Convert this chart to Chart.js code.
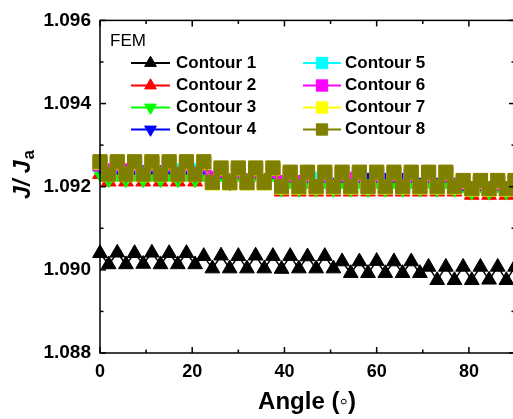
<!DOCTYPE html>
<html>
<head>
<meta charset="utf-8">
<script src="https://cdn.jsdelivr.net/npm/chart.js@4.4.0/dist/chart.umd.min.js"></script>
<style>
  html, body { margin: 0; padding: 0; overflow: hidden; background: #fff; }
  #chart { display: block; }
</style>
</head>
<body>
<canvas id="chart" width="516" height="419"></canvas>
<script>
// angle in degrees, one point every 1.875
const angles = [
  0, 1.875, 3.75, 5.625, 7.5, 9.375, 11.25, 13.125, 15, 16.875, 18.75, 20.625,
  22.5, 24.375, 26.25, 28.125, 30, 31.875, 33.75, 35.625, 37.5, 39.375, 41.25, 43.125,
  45, 46.875, 48.75, 50.625, 52.5, 54.375, 56.25, 58.125, 60, 61.875, 63.75, 65.625,
  67.5, 69.375, 71.25, 73.125, 75, 76.875, 78.75, 80.625, 82.5, 84.375, 86.25, 88.125, 90
];

const contour1 = [
  1.0904, 1.09013, 1.09041, 1.09013, 1.0904, 1.09014, 1.09041, 1.09013, 1.0904, 1.09013, 1.0904, 1.09013,
  1.09033, 1.09003, 1.09034, 1.09003, 1.09033, 1.09003, 1.09034, 1.09003, 1.09033, 1.09002, 1.09033, 1.09003,
  1.09032, 1.09003, 1.09033, 1.09003, 1.0902, 1.08992, 1.0902, 1.08992, 1.09021, 1.08992, 1.0902, 1.08992,
  1.0902, 1.08992, 1.09007, 1.08975, 1.09007, 1.08975, 1.09007, 1.08975, 1.09007, 1.08976, 1.09007, 1.08975, 1.09007
];
const contour2 = [
  1.0923, 1.09212, 1.0923, 1.09212, 1.0923, 1.09212, 1.0923, 1.09212, 1.0923, 1.09212, 1.0923, 1.09212,
  1.0923, 1.09212, 1.0923, 1.09212, 1.0923, 1.09212, 1.0923, 1.09212, 1.0923, 1.09188, 1.0921, 1.09188,
  1.0921, 1.09188, 1.0921, 1.09188, 1.0921, 1.09188, 1.0921, 1.09188, 1.0921, 1.09188, 1.0921, 1.09188,
  1.0921, 1.09188, 1.0921, 1.09188, 1.0921, 1.09188, 1.092, 1.0918, 1.092, 1.0918, 1.092, 1.0918, 1.092
];
const contour3 = [
  1.09232, 1.09218, 1.09232, 1.09218, 1.09232, 1.09218, 1.09232, 1.09218, 1.09232, 1.09218, 1.09232, 1.09218,
  1.09232, 1.09218, 1.09232, 1.09218, 1.09232, 1.09218, 1.09232, 1.09218, 1.09232, 1.09195, 1.09215, 1.09195,
  1.09215, 1.09195, 1.09215, 1.09195, 1.09215, 1.09195, 1.09215, 1.09195, 1.09215, 1.09195, 1.09215, 1.09195,
  1.09215, 1.09195, 1.09215, 1.09195, 1.09215, 1.09195, 1.09205, 1.09188, 1.09205, 1.09188, 1.09205, 1.09188, 1.09205
];
const contour4 = [
  1.0925, 1.0923, 1.0925, 1.0923, 1.0925, 1.0924, 1.0925, 1.0924, 1.0925, 1.0923, 1.0925, 1.0923,
  1.0925, 1.0922, 1.0924, 1.0921, 1.0924, 1.09212, 1.0924, 1.09212, 1.0924, 1.0921, 1.0923, 1.0921,
  1.0923, 1.0921, 1.0923, 1.0921, 1.0923, 1.0921, 1.0923, 1.09222, 1.0923, 1.09222, 1.0923, 1.09222,
  1.0923, 1.0921, 1.0923, 1.0921, 1.0923, 1.0921, 1.0921, 1.09198, 1.0921, 1.09198, 1.0921, 1.09198, 1.0921
];
const contour5 = [
  1.09255, 1.0923, 1.09255, 1.0923, 1.09255, 1.0923, 1.09255, 1.0923, 1.09255, 1.09238, 1.09255, 1.09238,
  1.09255, 1.0922, 1.0924, 1.0921, 1.0924, 1.0921, 1.0924, 1.0921, 1.0924, 1.0921, 1.0923, 1.0921,
  1.0923, 1.09218, 1.0923, 1.0920, 1.0923, 1.0920, 1.0923, 1.0920, 1.0923, 1.0920, 1.0923, 1.0920,
  1.0923, 1.0920, 1.0923, 1.0920, 1.0923, 1.0920, 1.0921, 1.09195, 1.0921, 1.09195, 1.0921, 1.09195, 1.0921
];
const contour6 = [
  1.09255, 1.09238, 1.09255, 1.09238, 1.09255, 1.0923, 1.09255, 1.0923, 1.09255, 1.0923, 1.09255, 1.0923,
  1.09255, 1.0922, 1.0924, 1.0921, 1.0924, 1.0921, 1.0924, 1.0921, 1.0924, 1.0921, 1.0923, 1.0921,
  1.0923, 1.0920, 1.0923, 1.0920, 1.0923, 1.09218, 1.0923, 1.0920, 1.0923, 1.0920, 1.0923, 1.0920,
  1.0923, 1.0920, 1.0923, 1.0920, 1.0923, 1.0920, 1.0921, 1.09195, 1.0921, 1.09195, 1.0921, 1.09195, 1.0921
];
const contour7 = [
  1.09259, 1.09229, 1.09259, 1.09229, 1.09259, 1.09229, 1.09259, 1.09229, 1.09259, 1.09229, 1.09259, 1.09229,
  1.09259, 1.09209, 1.09244, 1.09209, 1.09244, 1.09209, 1.09244, 1.09209, 1.09244, 1.09199, 1.09234, 1.09199,
  1.09234, 1.09199, 1.09234, 1.09199, 1.09234, 1.09199, 1.09234, 1.09199, 1.09234, 1.09199, 1.09234, 1.09199,
  1.09234, 1.09199, 1.09234, 1.09199, 1.09234, 1.09199, 1.09214, 1.09194, 1.09214, 1.09194, 1.09214, 1.09194, 1.09214
];
const contour8 = [
  1.0926, 1.0923, 1.0926, 1.0923, 1.0926, 1.0923, 1.0926, 1.0923, 1.0926, 1.0923, 1.0926, 1.0923,
  1.0926, 1.0921, 1.09245, 1.0921, 1.09245, 1.0921, 1.09245, 1.0921, 1.09245, 1.092, 1.09235, 1.092,
  1.09235, 1.092, 1.09235, 1.092, 1.09235, 1.092, 1.09235, 1.092, 1.09235, 1.092, 1.09235, 1.092,
  1.09235, 1.092, 1.09235, 1.092, 1.09235, 1.092, 1.09215, 1.09195, 1.09215, 1.09195, 1.09215, 1.09195, 1.09215
];

const seriesNames = ["Contour 1", "Contour 2", "Contour 3", "Contour 4",
                     "Contour 5", "Contour 6", "Contour 7", "Contour 8"];
const seriesValues = [contour1, contour2, contour3, contour4,
                      contour5, contour6, contour7, contour8];
const xTickLabels = [0, 20, 40, 60, 80];
const yTickLabels = [1.088, 1.090, 1.092, 1.094, 1.096];

const colors = ["#000000", "#ff0000", "#00ff00", "#0000ff",
                "#00ffff", "#ff00ff", "#ffff00", "#808000"];
const markers = [
  { style: "triangle", rot: 0, r: 8.5 },
  { style: "triangle", rot: 0, r: 8.5 },
  { style: "triangle", rot: 180, r: 8.5 },
  { style: "triangle", rot: 180, r: 8.5 },
  { style: "rect", rot: 0, r: 10 },
  { style: "rect", rot: 0, r: 10 },
  { style: "rect", rot: 0, r: 10 },
  { style: "rect", rot: 0, r: 10 }
];

const FONT = '"Liberation Sans", Arial, sans-serif';
const PLOT_RIGHT = 514.7; // right axis sits just past the window edge

const datasets = seriesValues.map((vals, i) => ({
  label: seriesNames[i],
  data: angles.map((a, k) => ({ x: a, y: vals[k] })),
  borderColor: colors[i],
  backgroundColor: colors[i],
  borderWidth: 1.5,
  pointStyle: markers[i].style,
  pointRotation: markers[i].rot,
  pointRadius: markers[i].r,
  pointBorderWidth: 1,
  tension: 0,
  clip: false,
  order: 8 - i
}));

function line(ctx, x1, y1, x2, y2) {
  ctx.beginPath();
  ctx.moveTo(x1, y1);
  ctx.lineTo(x2, y2);
  ctx.stroke();
}

function marker(ctx, m, color, x, y) {
  ctx.fillStyle = color;
  ctx.strokeStyle = color;
  ctx.lineWidth = 1;
  Chart.helpers.drawPoint(ctx, { pointStyle: m.style, rotation: m.rot, radius: m.r * 0.8, borderWidth: 1 }, x, y);
}

const frame = {
  id: "frame",
  afterDraw(chart) {
    const { ctx, chartArea: a, scales } = chart;
    const xs = scales.x, ys = scales.y;
    ctx.save();
    ctx.strokeStyle = "#000";
    ctx.lineWidth = 1.5;
    ctx.strokeRect(a.left, a.top, a.right - a.left, a.bottom - a.top);

    // inward ticks
    for (let v = 0; v <= 90; v += 10) {
      const px = xs.getPixelForValue(v);
      const len = v % 20 === 0 ? 6 : 3.5;
      line(ctx, px, a.bottom, px, a.bottom - len);
      line(ctx, px, a.top, px, a.top + len);
    }
    for (let k = 0; k <= 8; k++) {
      const py = ys.getPixelForValue(1.088 + k * 0.001);
      const len = k % 2 === 0 ? 6 : 3.5;
      line(ctx, a.left, py, a.left + len, py);
      line(ctx, a.right, py, a.right - len, py);
    }

    // axis titles
    ctx.fillStyle = "#000";
    ctx.font = "bold 24px " + FONT;
    ctx.textAlign = "center";
    ctx.textBaseline = "middle";
    ctx.fillText("Angle (\u25E6)", 307, 402);

    ctx.save();
    ctx.translate(0, 175);
    ctx.rotate(-Math.PI / 2);
    ctx.textBaseline = "alphabetic";
    ctx.textAlign = "left";
    ctx.font = "italic bold 23px " + FONT;
    const main = "J/ J";
    const wMain = ctx.measureText(main).width;
    ctx.font = "bold 17px " + FONT;
    const wSub = ctx.measureText("a").width;
    const x0 = -(wMain + wSub) / 2;
    ctx.font = "italic bold 23px " + FONT;
    ctx.fillText(main, x0, 30);
    ctx.font = "bold 17px " + FONT;
    ctx.fillText("a", x0 + wMain + 1, 34);
    ctx.restore();

    // legend
    ctx.textAlign = "left";
    ctx.textBaseline = "middle";
    ctx.font = "17px " + FONT;
    ctx.fillText("FEM", 110, 41);
    const rowY = [63, 85.5, 107.5, 129.5];
    const cols = [{ l1: 131, l2: 170, t: 176 }, { l1: 303, l2: 341, t: 345 }];
    ctx.font = "bold 17px " + FONT;
    seriesNames.forEach((name, i) => {
      const c = cols[Math.floor(i / 4)];
      const y = rowY[i % 4];
      ctx.strokeStyle = colors[i];
      ctx.lineWidth = 2;
      line(ctx, c.l1, y, c.l2, y);
      marker(ctx, markers[i], colors[i], (c.l1 + c.l2) / 2, y);
      ctx.fillStyle = "#000";
      ctx.fillText(name, c.t, y);
    });
    ctx.restore();
  }
};

const chart = new Chart(document.getElementById("chart"), {
  type: "line",
  data: { datasets },
  options: {
    responsive: false,
    maintainAspectRatio: false,
    animation: false,
    events: [],
    layout: { padding: { left: 0, top: 20, right: 1.3, bottom: 0 } },
    plugins: { legend: { display: false }, tooltip: { enabled: false } },
    scales: {
      x: {
        type: "linear",
        min: 0,
        max: 90,
        grid: { display: false, drawTicks: false },
        border: { display: false },
        afterFit: (s) => { s.height = 66; },
        ticks: {
          stepSize: 10,
          autoSkip: false,
          maxRotation: 0,
          padding: 8,
          color: "#000",
          font: { family: FONT, size: 18, weight: "bold" },
          callback: (v) => (xTickLabels.includes(v) ? String(v) : "")
        }
      },
      y: {
        type: "linear",
        min: 1.088,
        max: 1.096,
        grid: { display: false, drawTicks: false },
        border: { display: false },
        afterFit: (s) => { s.width = 100; },
        ticks: {
          stepSize: 0.001,
          autoSkip: false,
          padding: 9,
          color: "#000",
          font: { family: FONT, size: 19, weight: "bold" },
          callback: (v) => {
            const hit = yTickLabels.find((t) => Math.abs(t - v) < 1e-7);
            return hit === undefined ? "" : hit.toFixed(3);
          }
        }
      }
    }
  },
  plugins: [frame]
});

// the layout keeps some room on the right; widen the canvas so the plot reaches the edge
const gap = PLOT_RIGHT - chart.chartArea.right;
if (Math.abs(gap) > 0.3) chart.resize(Math.round(chart.width + gap), 419);
</script>
</body>
</html>
